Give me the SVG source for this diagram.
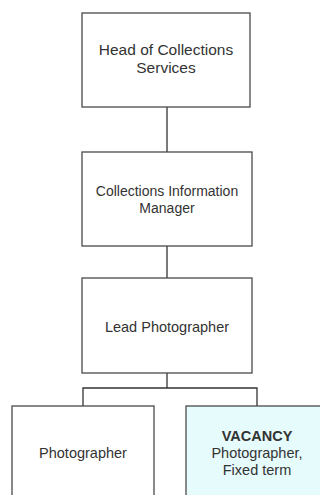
<svg xmlns="http://www.w3.org/2000/svg" width="320" height="495" viewBox="0 0 320 495">
<style>
.box{fill:#ffffff;stroke:#4a4a4a;stroke-width:1.3}
.vac{fill:#e6fbfc;stroke:#4a4a4a;stroke-width:1.3}
.t{font-family:"Liberation Sans",Arial,sans-serif;font-size:14.5px;fill:#333333;text-anchor:middle}
.b{font-weight:bold}
.c{fill:none;stroke:#333333;stroke-width:1.3}
</style>
<rect x="0" y="0" width="320" height="495" fill="#ffffff"/>
<g id="connectors">
<line class="c" x1="167" y1="107" x2="167" y2="152"/>
<line class="c" x1="167" y1="246" x2="167" y2="278"/>
<polyline class="c" points="167,373 167,388"/>
<polyline class="c" points="83,406 83,388 257,388 257,406"/>
</g>
<g id="head">
<rect class="box" x="82" y="13" width="168" height="94"/>
<text class="t" x="166" y="55" style="font-size:15.5px">Head of Collections</text>
<text class="t" x="166" y="73" style="font-size:15.5px">Services</text>
</g>
<g id="cim">
<rect class="box" x="82" y="152" width="170" height="94"/>
<text class="t" x="167" y="196" style="font-size:14px">Collections Information</text>
<text class="t" x="167" y="213" style="font-size:14px">Manager</text>
</g>
<g id="lead">
<rect class="box" x="82" y="278" width="170" height="95"/>
<text class="t" x="167" y="332">Lead Photographer</text>
</g>
<g id="photographer">
<rect class="box" x="12" y="406" width="142" height="100"/>
<text class="t" x="83" y="458">Photographer</text>
</g>
<g id="vacancy">
<rect class="vac" x="186" y="406" width="142" height="100"/>
<text class="t b" x="257" y="441">VACANCY</text>
<text class="t" x="257" y="458">Photographer,</text>
<text class="t" x="257" y="475">Fixed term</text>
</g>
</svg>
